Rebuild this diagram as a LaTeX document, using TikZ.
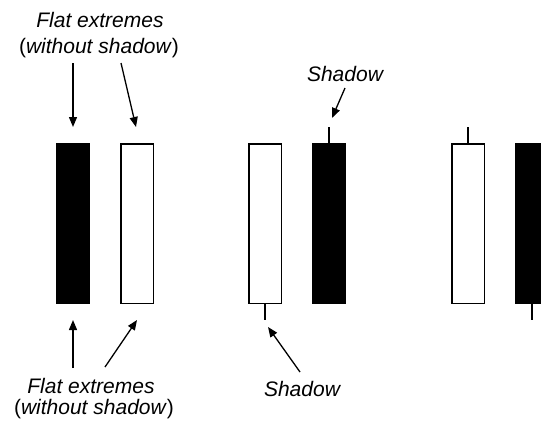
\documentclass[tikz,border=0pt]{standalone}
\usepackage{fontspec}
\setmainfont{Liberation Sans}
\usetikzlibrary{arrows.meta}
\tikzset{
  candlebody/.style={draw=black, line width=1.5pt, minimum width=32.5pt, minimum height=159.5pt, inner sep=0pt, outer sep=0pt},
  bull/.style={candlebody, fill=white},
  bear/.style={candlebody, fill=black},
  wick/.style={line width=1.5pt},
  pointer/.style={line width=1.3pt, -{Triangle[length=10pt,width=8pt]}},
  lbl/.style={font=\fontsize{21}{25}\selectfont, inner sep=0pt, anchor=base},
}
\begin{document}
\begin{tikzpicture}[x=1pt,y=-1pt]
\useasboundingbox (0,0) rectangle (541,426);
\clip (0,0) rectangle (541,426);
% candles
\node[bear] (c1) at (73,223.5) {};
\node[bull] (c2) at (137,223.5) {};
\node[bull] (c3) at (265,223.5) {};
\node[bear] (c4) at (329,223.5) {};
\node[bull] (c5) at (468,223.5) {};
\node[bear] (c6) at (532,223.5) {};
% shadows
\coordinate (s4) at (329,127);
\coordinate (s5) at (468,127);
\coordinate (s3) at (265,320);
\coordinate (s6) at (532,320);
\draw[wick] (c4.north) -- (s4);
\draw[wick] (c5.north) -- (s5);
\draw[wick] (c3.south) -- (s3);
\draw[wick] (c6.south) -- (s6);
% labels
\node[lbl] (t1) at (100,27) {\itshape Flat extremes};
\node[lbl] (t2) at (99,53) {(\textit{without shadow})};
\node[lbl] (b1) at (91,393) {\itshape Flat extremes};
\node[lbl] (b2) at (94,414) {(\textit{without shadow})};
\node[lbl] (sh1) at (345,81) {\itshape Shadow};
\node[lbl] (sh2) at (302,396) {\itshape Shadow};
% arrow endpoints
\coordinate (a1s) at (73,63);   \coordinate (a1e) at (73,127);
\coordinate (a2s) at (121,63);  \coordinate (a2e) at (136,127);
\coordinate (a3s) at (345,88);  \coordinate (a3e) at (332,118);
\coordinate (a4s) at (73,368);  \coordinate (a4e) at (73,320);
\coordinate (a5s) at (105,367); \coordinate (a5e) at (137,320);
\coordinate (a6s) at (300,372); \coordinate (a6e) at (268,327);
\draw[pointer] (a1s) -- (a1e);
\draw[pointer] (a2s) -- (a2e);
\draw[pointer] (a3s) -- (a3e);
\draw[pointer] (a4s) -- (a4e);
\draw[pointer] (a5s) -- (a5e);
\draw[pointer] (a6s) -- (a6e);
\end{tikzpicture}
\end{document}
